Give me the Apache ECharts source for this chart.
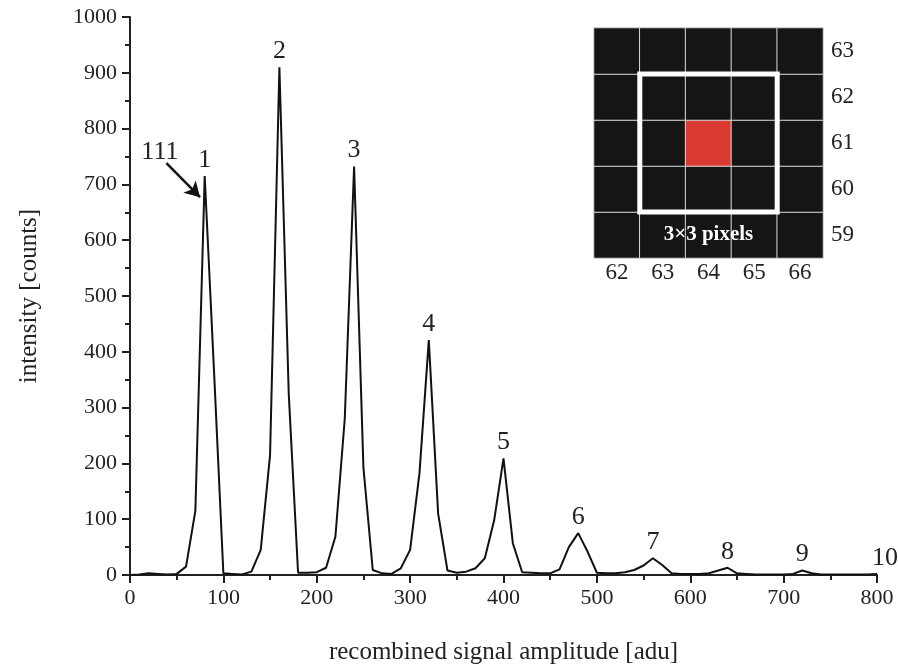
<!DOCTYPE html>
<html>
<head>
<meta charset="utf-8">
<script src="https://cdn.jsdelivr.net/npm/echarts@6/dist/echarts.min.js"></script>
<style>
  html, body { margin: 0; padding: 0; background: #fff; }
  #chart { width: 898px; height: 666px; }
</style>
</head>
<body>
<div id="chart"></div>
<script>
// signal amplitude (adu), sampled every 10 adu
const amplitude = [0, 10, 20, 30, 40, 50, 60, 70, 80, 90, 100, 110, 120, 130, 140, 150, 160, 170, 180, 190,
  200, 210, 220, 230, 240, 250, 260, 270, 280, 290, 300, 310, 320, 330, 340, 350, 360, 370, 380, 390,
  400, 410, 420, 430, 440, 450, 460, 470, 480, 490, 500, 510, 520, 530, 540, 550, 560, 570, 580, 590,
  600, 610, 620, 630, 640, 650, 660, 670, 680, 690, 700, 710, 720, 730, 740, 750, 760, 770, 780, 790, 800]
const counts = [0, 1, 3, 2, 1, 2, 15, 115, 715, 365, 3, 2, 1, 6, 45, 215, 910, 325, 4, 4,
  5, 13, 69, 280, 732, 192, 9, 3, 2, 12, 45, 182, 421, 110, 8, 4, 6, 12, 30, 98,
  209, 57, 5, 4, 3, 3, 10, 50, 75, 42, 4, 3, 3, 5, 9, 17, 30, 18, 3, 2,
  2, 2, 3, 8, 13, 3, 2, 1, 1, 1, 1, 2, 8, 3, 1, 1, 1, 1, 1, 1, 2]

// peak annotations (photon number)
const peakAmp = [80, 160, 240, 320, 400, 480, 560, 640, 720, 800]
const peakNames = ['1', '2', '3', '4', '5', '6', '7', '8', '9', '10']

// inset: 5x5 pixel neighbourhood
const insetCols = ['62', '63', '64', '65', '66']
const insetRows = ['59', '60', '61', '62', '63']
const hotCell = ['64', '61']

const font = 'Liberation Serif'
const ele = document.getElementById('chart')
const chart = echarts.init(ele)

const lineData = amplitude.map((a, i) => [a, counts[i]])
const peakMarks = peakAmp.map((a, i) => ({
  name: peakNames[i],
  coord: [a, counts[amplitude.indexOf(a)]],
  label: i === 9 ? { offset: [8, 0] } : {}
}))
const cells = []
insetCols.forEach((c, xi) => {
  insetRows.forEach((r, yi) => {
    cells.push([xi, yi, c === hotCell[0] && r === hotCell[1] ? 1 : 0])
  })
})

const option = {
  animation: false,
  textStyle: { fontFamily: font },
  grid: [
    { left: 130, right: 21, top: 17, bottom: 91, outerBoundsMode: 'none' },
    { left: 594, top: 28, width: 229, height: 230, outerBoundsMode: 'none' }
  ],
  visualMap: {
    show: false,
    type: 'piecewise',
    seriesIndex: 1,
    dimension: 2,
    pieces: [
      { value: 0, color: '#151515' },
      { value: 1, color: '#db3a33' }
    ]
  },
  xAxis: [
    {
      type: 'value',
      min: 0,
      max: 800,
      interval: 100,
      name: 'recombined signal amplitude [adu]',
      nameLocation: 'middle',
      nameGap: 65,
      nameTextStyle: { fontSize: 25, color: '#222', fontFamily: font },
      axisLine: { show: true, lineStyle: { color: '#222', width: 2 } },
      axisTick: { length: 8, lineStyle: { color: '#222', width: 2 } },
      minorTick: { show: true, splitNumber: 2, length: 5, lineStyle: { color: '#222', width: 2 } },
      axisLabel: { fontSize: 22, color: '#222', margin: 12, fontFamily: font },
      splitLine: { show: false }
    },
    {
      type: 'category',
      gridIndex: 1,
      data: insetCols,
      position: 'bottom',
      axisLine: { show: false },
      axisTick: { show: false },
      axisLabel: { fontSize: 23, color: '#222', margin: 3, fontFamily: font },
      splitLine: { show: false }
    }
  ],
  yAxis: [
    {
      type: 'value',
      min: 0,
      max: 1000,
      interval: 100,
      name: 'intensity [counts]',
      nameLocation: 'middle',
      nameGap: 88,
      nameTextStyle: { fontSize: 25, color: '#222', fontFamily: font },
      axisLine: { show: true, lineStyle: { color: '#222', width: 2 } },
      axisTick: { length: 8, lineStyle: { color: '#222', width: 2 } },
      minorTick: { show: true, splitNumber: 2, length: 5, lineStyle: { color: '#222', width: 2 } },
      axisLabel: { fontSize: 22, color: '#222', margin: 13, fontFamily: font, formatter: (v) => String(v) },
      splitLine: { show: false }
    },
    {
      type: 'category',
      gridIndex: 1,
      data: insetRows,
      position: 'right',
      axisLine: { show: false },
      axisTick: { show: false },
      axisLabel: { fontSize: 23, color: '#222', margin: 8, fontFamily: font },
      splitLine: { show: false }
    }
  ],
  series: [
    {
      type: 'line',
      data: lineData,
      symbol: 'none',
      lineStyle: { color: '#111', width: 2 },
      markPoint: {
        symbol: 'circle',
        symbolSize: 0,
        label: {
          show: true,
          position: 'top',
          distance: 3,
          formatter: '{b}',
          fontSize: 26,
          color: '#222',
          fontFamily: font
        },
        data: peakMarks.concat([
          { name: '111', coord: [32, 758], label: { position: 'inside' } }
        ])
      },
      markLine: {
        silent: true,
        symbol: ['none', 'arrow'],
        symbolSize: [13, 15],
        label: { show: false },
        lineStyle: { color: '#111', width: 2.5, type: 'solid' },
        data: [[{ coord: [39, 738] }, { coord: [75, 677] }]]
      }
    },
    {
      type: 'heatmap',
      xAxisIndex: 1,
      yAxisIndex: 1,
      data: cells,
      itemStyle: { borderColor: '#d8d8d8', borderWidth: 1 }
    }
  ]
}
chart.setOption(option)

// white 3x3 frame and caption, placed from the inset's category axes
const a = chart.convertToPixel({ gridIndex: 1 }, ['63', '62'])
const b = chart.convertToPixel({ gridIndex: 1 }, ['65', '60'])
const c = chart.convertToPixel({ gridIndex: 1 }, ['64', '59'])
const half = (b[0] - a[0]) / 4
chart.setOption({
  graphic: [
    {
      type: 'rect',
      shape: { x: a[0] - half, y: a[1] - half, width: b[0] - a[0] + 2 * half, height: b[1] - a[1] + 2 * half },
      style: { fill: 'none', stroke: '#fff', lineWidth: 5 },
      z: 100
    },
    {
      type: 'text',
      x: c[0],
      y: c[1],
      style: {
        text: '3×3 pixels',
        fill: '#fff',
        font: 'bold 21px "Liberation Serif"',
        align: 'center',
        verticalAlign: 'middle'
      },
      z: 100
    }
  ]
})
</script>
</body>
</html>
